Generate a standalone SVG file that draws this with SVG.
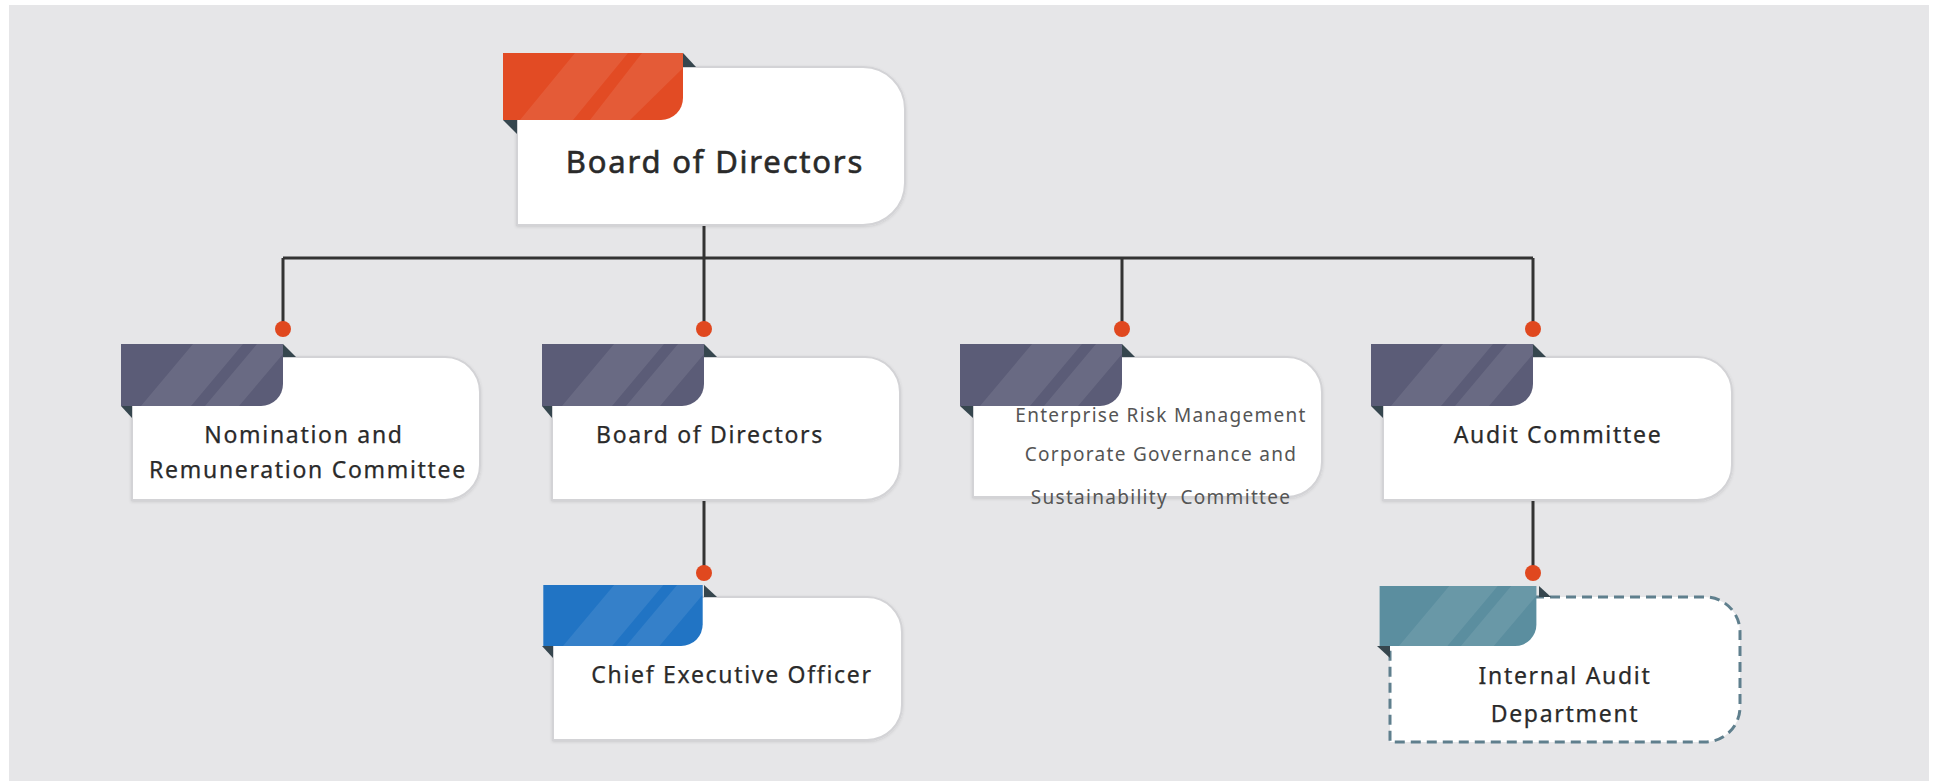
<svg xmlns="http://www.w3.org/2000/svg" width="1935" height="781" viewBox="0 0 1935 781">
  <defs>
    <style>
      .card { fill: #ffffff; stroke: #d3d3d6; stroke-width: 2; }
      .card-dashed { fill: #ffffff; stroke: #5f7f8d; stroke-width: 3; stroke-dasharray: 10 6; }
      .fold { fill: #36464e; }
      .stripe { fill: #ffffff; opacity: 0.09; }
      .link { fill: none; stroke: #333333; stroke-width: 3; }
      .dot { fill: #e0481f; }
      .label { font-family: "Noto Sans", "Open Sans", sans-serif; fill: #2a2a2a; text-anchor: middle; stroke: #2a2a2a; stroke-width: 0.25px; }
      .big { font-size: 31px; letter-spacing: 1.8px; stroke-width: 0.6px; }
      .mid { font-size: 23px; letter-spacing: 1.7px; }
      .small { font-size: 19px; fill: #555555; stroke: none; letter-spacing: 1.3px; }
    </style>
    <!-- Ribbon tab: square top-right, rounded bottom-right, with two pale diagonal bands -->
    <symbol id="tab" viewBox="0 0 162 62" overflow="visible">
      <path d="M0 0 H162 V40 A22 22 0 0 1 140 62 H0 Z"/>
      <path class="stripe" d="M72 0 H122 L70 62 H20 Z"/>
      <path class="stripe" d="M136 0 H162 V10 L118 62 H84 Z"/>
    </symbol>
    <filter id="soft" x="-5%" y="-5%" width="110%" height="115%">
      <feDropShadow dx="0" dy="1" stdDeviation="1.5" flood-color="#000" flood-opacity="0.12"/>
    </filter>
  </defs>

  <!-- page -->
  <rect x="0" y="0" width="1935" height="781" fill="#ffffff"/>
  <rect x="9" y="5" width="1920" height="776" fill="#e6e6e8"/>

  <!-- connectors -->
  <g id="connectors">
    <path class="link" d="M704 225 V258"/>
    <path class="link" d="M283 258 H1533"/>
    <path class="link" d="M283 258 V328"/>
    <path class="link" d="M704 258 V328"/>
    <path class="link" d="M1122 258 V328"/>
    <path class="link" d="M1533 258 V328"/>
    <path class="link" d="M704 500 V573"/>
    <path class="link" d="M1533 500 V573"/>
    <circle class="dot" cx="283" cy="329" r="8"/>
    <circle class="dot" cx="704" cy="329" r="8"/>
    <circle class="dot" cx="1122" cy="329" r="8"/>
    <circle class="dot" cx="1533" cy="329" r="8"/>
    <circle class="dot" cx="704" cy="573" r="8"/>
    <circle class="dot" cx="1533" cy="573" r="8"/>
  </g>

  <!-- top node -->
  <g id="board-top">
    <path class="card" filter="url(#soft)" d="M517 67 H863 A42 42 0 0 1 905 109 V183 A42 42 0 0 1 863 225 H517 Z"/>
    <g fill="#e24b24">
      <path d="M503 53 H683 V98 A22 22 0 0 1 661 120 H503 Z"/>
      <path class="stripe" d="M575 53 H628 L573 120 H520 Z"/>
      <path class="stripe" d="M642 53 H683 V68 L630 120 H590 Z"/>
    </g>
    <path class="fold" d="M683 53 L696 67 H683 Z"/>
    <path class="fold" d="M503 120 H517 V134 Z"/>
    <text class="label big" x="715" y="173">Board of Directors</text>
  </g>

  <!-- second level -->
  <g id="nomination">
    <path class="card" filter="url(#soft)" d="M132 357 H445 A35 35 0 0 1 480 392 V465 A35 35 0 0 1 445 500 H132 Z"/>
    <use href="#tab" x="121" y="344" width="162" height="62" fill="#5b5c77"/>
    <path class="fold" d="M283 344 L296 357 H283 Z"/>
    <path class="fold" d="M121 406 H132 V418 Z"/>
    <text class="label mid" x="304" y="443">Nomination and</text>
    <text class="label mid" x="308" y="478">Remuneration Committee</text>
  </g>

  <g id="board-second">
    <path class="card" filter="url(#soft)" d="M552 357 H865 A35 35 0 0 1 900 392 V465 A35 35 0 0 1 865 500 H552 Z"/>
    <use href="#tab" x="542" y="344" width="162" height="62" fill="#5b5c77"/>
    <path class="fold" d="M704 344 L717 357 H704 Z"/>
    <path class="fold" d="M542 406 H552 V418 Z"/>
    <text class="label mid" x="710" y="443">Board of Directors</text>
  </g>

  <g id="risk-governance">
    <path class="card" filter="url(#soft)" d="M973 357 H1287 A35 35 0 0 1 1322 392 V462 A35 35 0 0 1 1287 497 H973 Z"/>
    <use href="#tab" x="960" y="344" width="162" height="62" fill="#5b5c77"/>
    <path class="fold" d="M1122 344 L1135 357 H1122 Z"/>
    <path class="fold" d="M960 406 H973 V418 Z"/>
    <text class="label small" x="1161" y="422">Enterprise Risk Management</text>
    <text class="label small" x="1161" y="461">Corporate Governance and</text>
    <text class="label small" x="1161" y="504" xml:space="preserve">Sustainability  Committee</text>
  </g>

  <g id="audit-committee">
    <path class="card" filter="url(#soft)" d="M1383 357 H1697 A35 35 0 0 1 1732 392 V465 A35 35 0 0 1 1697 500 H1383 Z"/>
    <use href="#tab" x="1371" y="344" width="162" height="62" fill="#5b5c77"/>
    <path class="fold" d="M1533 344 L1546 357 H1533 Z"/>
    <path class="fold" d="M1371 406 H1383 V418 Z"/>
    <text class="label mid" x="1558" y="443">Audit Committee</text>
  </g>

  <!-- third level -->
  <g id="ceo">
    <path class="card" filter="url(#soft)" d="M553 597 H867 A35 35 0 0 1 902 632 V705 A35 35 0 0 1 867 740 H553 Z"/>
    <use href="#tab" x="542" y="585" width="162" height="61" fill="#2174c4"/>
    <path class="fold" d="M704 585 L717 597 H704 Z"/>
    <path class="fold" d="M542 646 H553 V658 Z"/>
    <text class="label mid" x="732" y="683">Chief Executive Officer</text>
  </g>

  <g id="internal-audit">
    <path class="card-dashed" d="M1390 597 H1705 A35 35 0 0 1 1740 632 V707 A35 35 0 0 1 1705 742 H1390 Z"/>
    <use href="#tab" x="1377" y="586" width="162" height="60" fill="#5b8e9f"/>
    <path class="fold" d="M1539 586 L1551 597 H1539 Z"/>
    <path class="fold" d="M1377 646 H1390 V658 Z"/>
    <text class="label mid" x="1565" y="684">Internal Audit</text>
    <text class="label mid" x="1565" y="722">Department</text>
  </g>
</svg>
